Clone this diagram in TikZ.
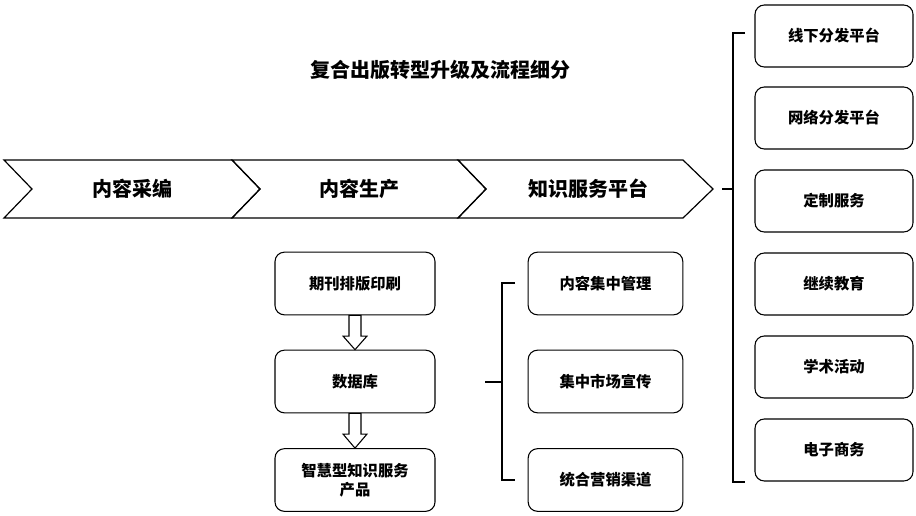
\documentclass[tikz,border=0pt]{standalone}
\usepackage{fontspec}
\setmainfont{Noto Sans CJK SC}
\begin{document}
\begin{tikzpicture}[x=0.75pt,y=-0.75pt,line width=0.8pt,
  box/.style={draw,rounded corners=7pt,minimum width=120pt,minimum height=47pt,align=center,font=\fontsize{11.5pt}{14pt}\selectfont\bfseries,inner sep=2pt},
  rbox/.style={box,minimum width=118.5pt,minimum height=46.5pt},
  mbox/.style={box,minimum width=116pt},
  chev/.style={draw,line width=0.9pt},
  chevtext/.style={font=\fontsize{15pt}{18pt}\selectfont\bfseries},
  hollow/.style={draw,line width=0.8pt,fill=white},
  brk/.style={draw,line width=0.8pt}]
\useasboundingbox (0,0) rectangle (916,515);

% title
\node[font=\fontsize{15pt}{18pt}\selectfont\bfseries] (title) at (440,70) {复合出版转型升级及流程细分};

% chevrons
\draw[chev] (4,160) -- (232,160) -- (260,189) -- (232,218) -- (4,218) -- (32,189) -- cycle;
\draw[chev] (232,160) -- (458,160) -- (486,189) -- (458,218) -- (232,218) -- (260,189) -- cycle;
\draw[chev] (458,160) -- (683,160) -- (713,189) -- (683,218) -- (458,218) -- (486,189) -- cycle;
\coordinate (tip) at (713,189);
\node[chevtext] (c1) at (132,189) {内容采编};
\node[chevtext] (c2) at (359,189) {内容生产};
\node[chevtext] (c3) at (588,189) {知识服务平台};

% left column
\node[box] (a) at (355,283.5) {期刊排版印刷};
\node[box] (b) at (355,381.5) {数据库};
\node[box] (c) at (355,480) {智慧型知识服务\\产品};

% hollow arrows
\draw[hollow] ([xshift=-4.5pt]a.south) -- ([xshift=4.5pt]a.south) -- ([xshift=4.5pt,yshift=-15.5pt]a.south) -- ([xshift=9pt,yshift=-15.5pt]a.south) -- (b.north) -- ([xshift=-9pt,yshift=-15.5pt]a.south) -- ([xshift=-4.5pt,yshift=-15.5pt]a.south) -- cycle;
\draw[hollow] ([xshift=-4.5pt]b.south) -- ([xshift=4.5pt]b.south) -- ([xshift=4.5pt,yshift=-15.5pt]b.south) -- ([xshift=9pt,yshift=-15.5pt]b.south) -- (c.north) -- ([xshift=-9pt,yshift=-15.5pt]b.south) -- ([xshift=-4.5pt,yshift=-15.5pt]b.south) -- cycle;

% middle column
\node[mbox] (d) at (605.5,283.5) {内容集中管理};
\node[mbox] (e) at (605.5,381.5) {集中市场宣传};
\node[mbox] (f) at (605.5,480) {统合营销渠道};

\coordinate (mb) at (485,382);
\coordinate (mv) at (502,382);
\coordinate (mt) at (502,283);
\coordinate (mbot) at (502,480);
\draw[brk] (mb) -- (mv);
\draw[brk] ([xshift=9.75pt]mt) -- (mt) -- (mbot) -- ([xshift=9.75pt]mbot);

% right column
\node[rbox] (r1) at (834,36) {线下分发平台};
\node[rbox] (r2) at (834,118) {网络分发平台};
\node[rbox] (r3) at (834,201) {定制服务};
\node[rbox] (r4) at (834,284) {继续教育};
\node[rbox] (r5) at (834,367) {学术活动};
\node[rbox] (r6) at (834,450) {电子商务};

\coordinate (rv) at (733,189);
\coordinate (rt) at (733,33);
\coordinate (rb) at (733,482);
\draw[brk] ([xshift=7pt]tip) -- (rv);
\draw[brk] ([xshift=9pt]rt) -- (rt) -- (rb) -- ([xshift=9pt]rb);
\end{tikzpicture}
\end{document}
